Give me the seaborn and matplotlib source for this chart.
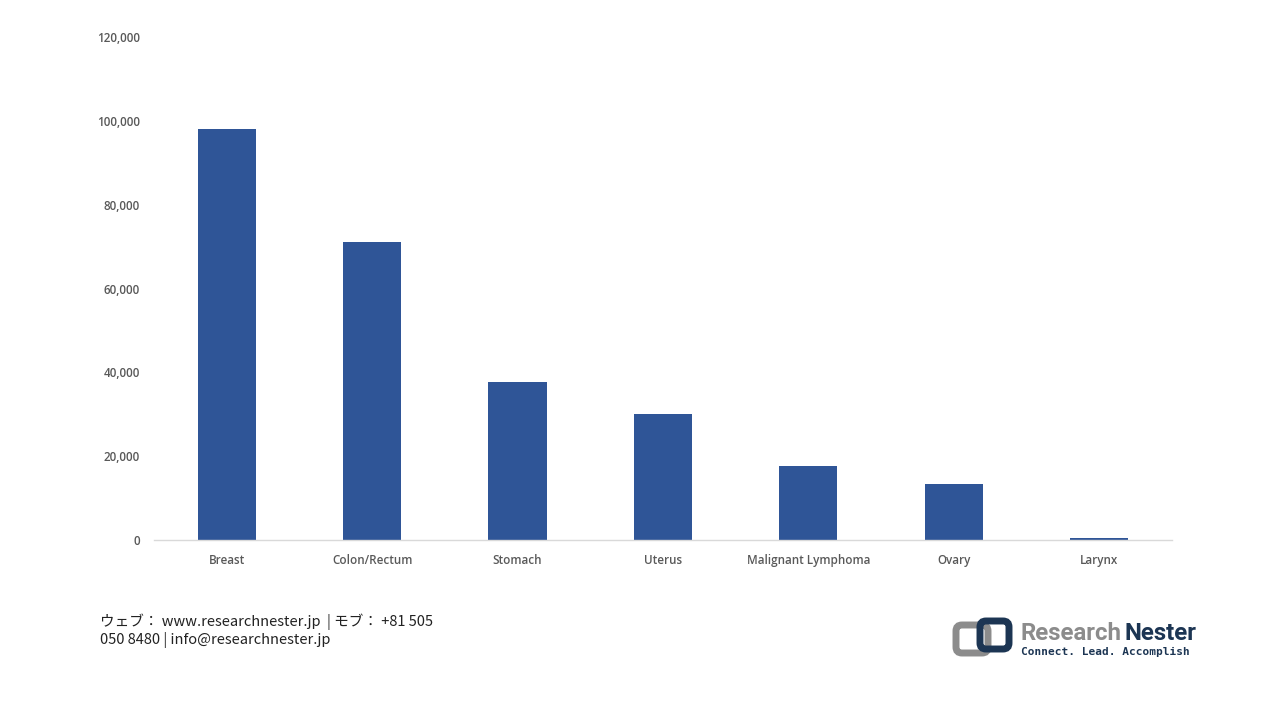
import matplotlib
matplotlib.use("Agg")
import matplotlib.pyplot as plt
from matplotlib.patches import FancyBboxPatch
from matplotlib.ticker import FuncFormatter
import seaborn as sns
import pandas as pd

categories = ["Breast", "Colon/Rectum", "Stomach", "Uterus",
              "Malignant Lymphoma", "Ovary", "Larynx"]
cases = [98000, 71000, 37700, 30000, 17700, 13400, 400]

y_ticks = [0, 20000, 40000, 60000, 80000, 100000, 120000]

footer_lines = ["ウェブ： www.researchnester.jp  | モブ： +81 505",
                "050 8480 | info@researchnester.jp"]

BAR_COLOR = "#2F5597"
TICK_COLOR = "#595959"

df = pd.DataFrame({"category": categories, "cases": cases})

sns.set_theme(style="white")
plt.rcParams['font.family'] = ['Open Sans', 'DejaVu Sans']

fig = plt.figure(figsize=(12.8, 7.2), dpi=100)
ax = fig.add_axes([0.1203, 0.25, 0.7953, 0.6986])

sns.barplot(data=df, x="category", y="cases", color=BAR_COLOR,
            width=0.4, saturation=1, linewidth=0, ax=ax)

ax.set_ylim(0, 120000)
ax.set_yticks(y_ticks)
ax.yaxis.set_major_formatter(FuncFormatter(lambda v, p: f"{int(v):,}"))
ax.set_xlabel("")
ax.set_ylabel("")
ax.tick_params(axis="both", length=0, labelsize=8.4, labelcolor=TICK_COLOR)
ax.tick_params(axis="y", pad=10)
ax.tick_params(axis="x", pad=10)
for lbl in ax.get_xticklabels() + ax.get_yticklabels():
    lbl.set_fontweight("semibold")

for side in ["left", "right", "top"]:
    ax.spines[side].set_visible(False)
ax.spines["bottom"].set_color("#d9d9d9")
ax.spines["bottom"].set_linewidth(1)
ax.grid(False)

# footer contact text
jp_font = ['Noto Sans CJK JP', 'DejaVu Sans']
fig.text(100 / 1280, 1 - 622 / 720, footer_lines[0], fontsize=10.5,
         family=jp_font, color="#222222", va="center")
fig.text(100 / 1280, 1 - 640 / 720, footer_lines[1], fontsize=10.5,
         family=jp_font, color="#222222", va="center")

# logo
logo_ax = fig.add_axes([950 / 1280, 1 - 662 / 720, 250 / 1280, 48 / 720])
logo_ax.set_xlim(0, 250)
logo_ax.set_ylim(0, 48)
logo_ax.axis("off")
logo_ax.add_patch(FancyBboxPatch((6, 9), 32, 28, boxstyle="round,pad=0,rounding_size=6",
                                 fill=False, ec="#8c8c8c", lw=5))
logo_ax.add_patch(FancyBboxPatch((30, 13), 29, 28, boxstyle="round,pad=0,rounding_size=6",
                                 fill=False, ec="#1c3553", lw=5))
logo_ax.text(70, 29, "Research", fontsize=17.3, color="#8c8c8c", fontweight="bold",
             family="Roboto", va="center", ha="left")
logo_ax.text(175, 29, "Nester", fontsize=17.3, color="#1c3553", fontweight="bold",
             family="Roboto", va="center", ha="left")
logo_ax.text(71, 10, "Connect. Lead. Accomplish", fontsize=8.0, color="#1c3553",
             fontweight="bold", family="DejaVu Sans Mono", va="center", ha="left")

fig.savefig("out.png", dpi=100)
plt.close(fig)
